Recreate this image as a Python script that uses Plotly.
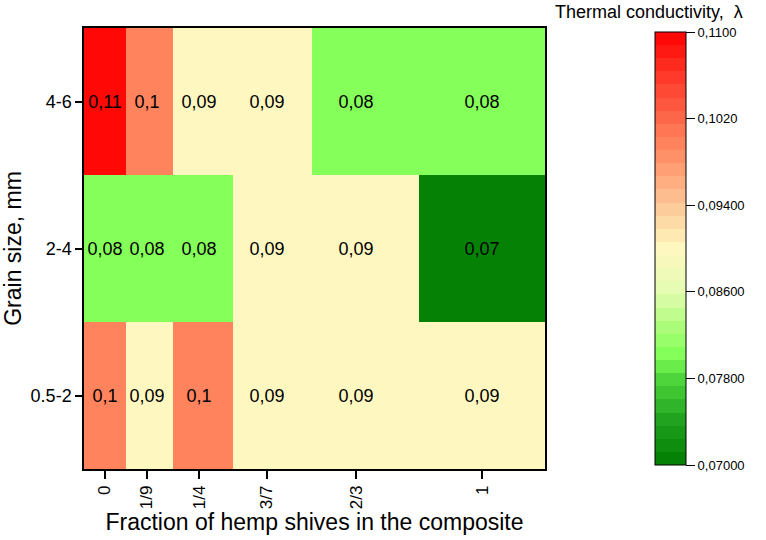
import plotly.graph_objects as go

# ---- data ----
fractions = [0, 1/9, 1/4, 3/7, 2/3, 1]
fraction_labels = ["0", "1/9", "1/4", "3/7", "2/3", "1"]
grain_sizes = ["0.5-2", "2-4", "4-6"]
row_05_2 = [0.10, 0.09, 0.10, 0.09, 0.09, 0.09]
row_2_4 = [0.08, 0.08, 0.08, 0.09, 0.09, 0.07]
row_4_6 = [0.11, 0.10, 0.09, 0.09, 0.08, 0.08]
cb_tickvals = [0.070, 0.078, 0.086, 0.094, 0.102, 0.110]
cb_ticktext = ["0,07000", "0,07800", "0,08600", "0,09400", "0,1020", "0,1100"]
zmin, zmax = 0.07, 0.11

z = [row_05_2, row_2_4, row_4_6]

def fmt(v):
    s = f"{v:.2f}".rstrip("0")
    if s.endswith("."):
        s = s[:-1]
    return s.replace(".", ",")

text = [[fmt(v) for v in row] for row in z]

FONT = "Liberation Sans, Arial, sans-serif"

# ---- banded colour scale ----
anchors = [
    (0.070, (0, 125, 0)),
    (0.074, (30, 160, 30)),
    (0.078, (80, 215, 60)),
    (0.080, (128, 255, 85)),
    (0.083, (175, 253, 125)),
    (0.086, (228, 252, 178)),
    (0.090, (255, 247, 192)),
    (0.094, (252, 200, 150)),
    (0.098, (255, 150, 110)),
    (0.100, (255, 128, 90)),
    (0.102, (252, 105, 75)),
    (0.106, (255, 55, 40)),
    (0.110, (255, 0, 0)),
]

def interp(v):
    for (v0, c0), (v1, c1) in zip(anchors[:-1], anchors[1:]):
        if v0 <= v <= v1:
            t = (v - v0) / (v1 - v0)
            return tuple(round(a + (b - a) * t) for a, b in zip(c0, c1))
    return anchors[-1][1] if v > anchors[-1][0] else anchors[0][1]

N = 33
colorscale = []
for i in range(N):
    vc = zmin + (i + 0.5) / N * (zmax - zmin)
    c = "rgb(%d,%d,%d)" % interp(vc)
    colorscale.append([i / N, c])
    colorscale.append([(i + 1) / N, c])

fig = go.Figure(go.Heatmap(
    x=fractions, y=grain_sizes, z=z,
    zmin=zmin, zmax=zmax,
    colorscale=colorscale,
    text=text, texttemplate="%{text}",
    textfont=dict(family=FONT, size=18, color="black"),
    hoverinfo="skip",
    colorbar=dict(
        x=1.2386, xanchor="left", xref="paper",
        y=0.5, yanchor="middle",
        thickness=31, thicknessmode="pixels",
        len=433, lenmode="pixels",
        outlinecolor="black", outlinewidth=1,
        tickvals=cb_tickvals, ticktext=cb_ticktext,
        ticks="outside", ticklen=9, tickcolor="black",
        tickfont=dict(family=FONT, size=13, color="black"),
        xpad=0, ypad=0,
    ),
))

fig.update_layout(
    width=766, height=540,
    margin=dict(l=84, r=221, t=28, b=71, autoexpand=False),
    paper_bgcolor="white", plot_bgcolor="white",
    font=dict(family=FONT, color="black"),
    annotations=[dict(
        text="Thermal conductivity,  λ", xref="paper", yref="paper",
        x=1.0174, y=1.0, yshift=28, xanchor="left", yanchor="top",
        showarrow=False, font=dict(size=18, color="black"),
    )],
)
fig.update_xaxes(
    tickvals=fractions, ticktext=fraction_labels, tickangle=-90,
    ticks="outside", ticklen=8, tickcolor="black", tickwidth=1.5,
    tickfont=dict(size=17),
    showline=True, linecolor="black", linewidth=1.5, mirror=True,
    showgrid=False, zeroline=False, automargin=False,
    title=dict(text="Fraction of hemp shives in the composite", font=dict(size=23), standoff=2),
)
fig.update_yaxes(
    ticks="outside", ticklen=7, tickcolor="black", tickwidth=1.5,
    tickfont=dict(size=18),
    showline=True, linecolor="black", linewidth=1.5, mirror=True,
    showgrid=False, zeroline=False, automargin=False,
    title=dict(text="Grain size, mm", font=dict(size=23), standoff=8),
)

fig.write_html("out.html")
